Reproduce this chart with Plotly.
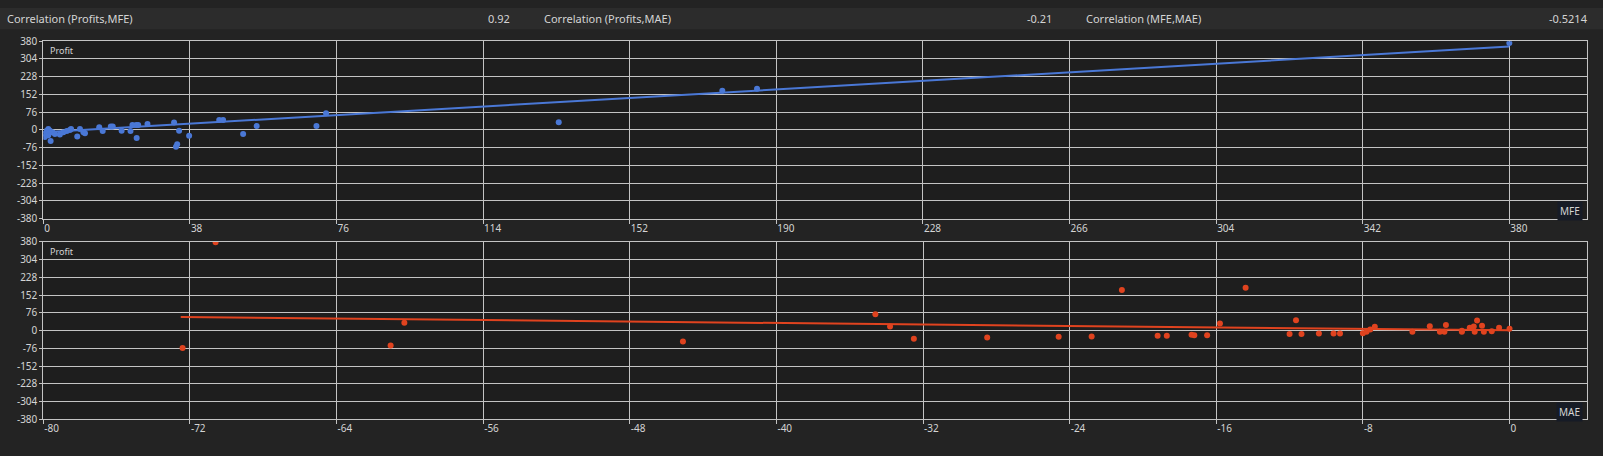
import plotly.graph_objects as go

# ---- data ----
mfe_values = [0.4, 0.4, 0.9, 1.3, 1.3, 1.7, 1.9, 2.4, 3.0, 4.3,
              5.2, 6.1, 6.9, 7.2, 8.8, 9.5, 10.4, 10.8, 14.5, 15.4,
              17.5, 18.0, 20.3, 22.6, 23.1, 24.1, 24.6, 24.2, 27.0, 33.9,
              34.4, 34.7, 35.2, 37.8, 45.6, 46.6, 51.8, 55.3, 70.8, 73.3,
              133.6, 176, 185, 380]
mfe_profit = [-16, -30, -3, 4, -23, -3, -47, -10, -17, -19,
              -10, -5, 0, 4, -28, 4, -10, -14, 11, -5,
              15, 15, -3, -5, 21, 21, 21, -35, 25, 32,
              -72, -61, -3, -25, 43, 43, -17, 17, 17, 71,
              33, 168, 176, 372]

mae_values = [-72.4, -70.6, -61.05, -60.3, -45.1, -34.6, -33.8, -32.5, -28.5, -24.6,
              -22.8, -21.15, -19.2, -18.7, -17.35, -17.2, -16.5, -15.8, -14.4, -12.0,
              -11.65, -11.35, -10.4, -9.6, -9.25, -8.0, -7.8, -7.6, -7.35, -5.3,
              -4.35, -3.8, -3.55, -3.47, -2.6, -2.6, -2.17, -1.95, -1.77, -1.9,
              -1.5, -1.4, -0.97, -0.57, 0]
mae_profit = [-75, 378, -64, 34, -47, 70, 17, -35, -30, -26,
              -25, 174, -22, -22, -18, -20, -20, 30, 184, -15,
              44, -15, -12, -12, -12, -11, -5, 5, 16, -5,
              19, -5, -5, 24, -1, -5, 12, 17, 43, -5,
              21, -5, -3, 12, 8]

trend_mfe_x = [0, 380]
trend_mfe_y = [-10, 357]
trend_mae_x = [-72.5, 0]
trend_mae_y = [58, 1]

header_labels = ["Correlation (Profits,MFE)", "Correlation (Profits,MAE)", "Correlation (MFE,MAE)"]
header_values = ["0.92", "-0.21", "-0.5214"]

profit_ticks = [-380, -304, -228, -152, -76, 0, 76, 152, 228, 304, 380]
mfe_ticks = [0, 38, 76, 114, 152, 190, 228, 266, 304, 342, 380]
mae_ticks = [-80, -72, -64, -56, -48, -40, -32, -24, -16, -8, 0]

# ---- styling ----
W, H = 1603, 456
PAPER = "#232323"
PLOT_BG = "#1e1e1e"
HEADER_BG = "#2c2c2c"
GRID = "#c4c4c4"
TXT = "#d4d4d4"
BLUE = "#4a78d6"
RED = "#e0431f"
FONT = "Noto Sans"

def px_x(p):
    return p / W

def px_y(p):
    return 1 - p / H

fig = go.Figure()

fig.add_trace(go.Scatter(x=mfe_values, y=mfe_profit, mode="markers",
                         marker=dict(color=BLUE, size=6), xaxis="x", yaxis="y",
                         showlegend=False, hoverinfo="x+y"))
fig.add_trace(go.Scatter(x=trend_mfe_x, y=trend_mfe_y, mode="lines",
                         line=dict(color=BLUE, width=2), xaxis="x", yaxis="y",
                         showlegend=False, hoverinfo="skip"))
fig.add_trace(go.Scatter(x=mae_values, y=mae_profit, mode="markers",
                         marker=dict(color=RED, size=6), xaxis="x2", yaxis="y2",
                         showlegend=False, hoverinfo="x+y"))
fig.add_trace(go.Scatter(x=trend_mae_x, y=trend_mae_y, mode="lines",
                         line=dict(color=RED, width=2), xaxis="x2", yaxis="y2",
                         showlegend=False, hoverinfo="skip"))

xdom = [px_x(43.3), px_x(1586.5)]
top_dom = [px_y(217.3), px_y(34.3)]
bot_dom = [px_y(424.3), px_y(241.3)]

common_x = dict(showgrid=True, gridcolor=GRID, gridwidth=1, zeroline=False,
                showline=True, linecolor=GRID, linewidth=1, mirror=True,
                ticks="outside", ticklen=4, tickcolor=GRID,
                ticklabelposition="outside right",
                tickfont=dict(family=FONT, size=10, color=TXT))
common_y = dict(showgrid=True, gridcolor=GRID, gridwidth=1, zeroline=False,
                showline=True, linecolor=GRID, linewidth=1, mirror=True,
                ticks="outside", ticklen=3, tickcolor=GRID,
                tickmode="array", tickvals=profit_ticks,
                ticktext=[str(v) for v in profit_ticks],
                range=[-380, 380],
                tickfont=dict(family=FONT, size=10, color=TXT))

fig.update_layout(
    width=W, height=H, autosize=False,
    margin=dict(l=0, r=0, t=0, b=0),
    paper_bgcolor=PAPER, plot_bgcolor=PLOT_BG,
    xaxis=dict(domain=xdom, anchor="y", range=[0, 400],
               tickmode="array", tickvals=mfe_ticks,
               ticktext=[str(v) for v in mfe_ticks], **common_x),
    yaxis=dict(domain=top_dom, anchor="x", **common_y),
    xaxis2=dict(domain=xdom, anchor="y2", range=[-80, 4.2],
                tickmode="array", tickvals=mae_ticks,
                ticktext=[str(v) for v in mae_ticks], **common_x),
    yaxis2=dict(domain=bot_dom, anchor="x2", **common_y),
)

# header bar
fig.add_shape(type="rect", xref="paper", yref="paper",
              x0=0, x1=1, y0=px_y(22), y1=1,
              fillcolor=HEADER_BG, line=dict(width=0), layer="below")

hdr_label_x = [5, 542, 1084]
hdr_value_x = [512, 1054, 1590]
for lx, lab, vx, val in zip(hdr_label_x, header_labels, hdr_value_x, header_values):
    fig.add_annotation(x=px_x(lx), y=px_y(11), xref="paper", yref="paper",
                       text=lab, showarrow=False, xanchor="left", yanchor="middle",
                       font=dict(family=FONT, size=11, color=TXT))
    fig.add_annotation(x=px_x(vx), y=px_y(11), xref="paper", yref="paper",
                       text=val, showarrow=False, xanchor="right", yanchor="middle",
                       font=dict(family=FONT, size=11, color=TXT))

# axis captions inside plots
for ytop in [34.3, 241.3]:
    fig.add_annotation(x=px_x(48), y=px_y(ytop + 10), xref="paper", yref="paper",
                       text="Profit", showarrow=False, xanchor="left", yanchor="middle",
                       font=dict(family=FONT, size=9, color=TXT))

for name, ybot in [("MFE", 217.3), ("MAE", 424.3)]:
    fig.add_annotation(x=px_x(1583), y=px_y(ybot - 8), xref="paper", yref="paper",
                       text=name, showarrow=False, xanchor="right", yanchor="middle",
                       bgcolor="#161b26", borderpad=2,
                       font=dict(family=FONT, size=10, color=TXT))

fig.write_html(
    "out.html",
    config={"displayModeBar": False},
    post_script="document.body.style.margin='0';document.body.style.background='#232323';",
)
